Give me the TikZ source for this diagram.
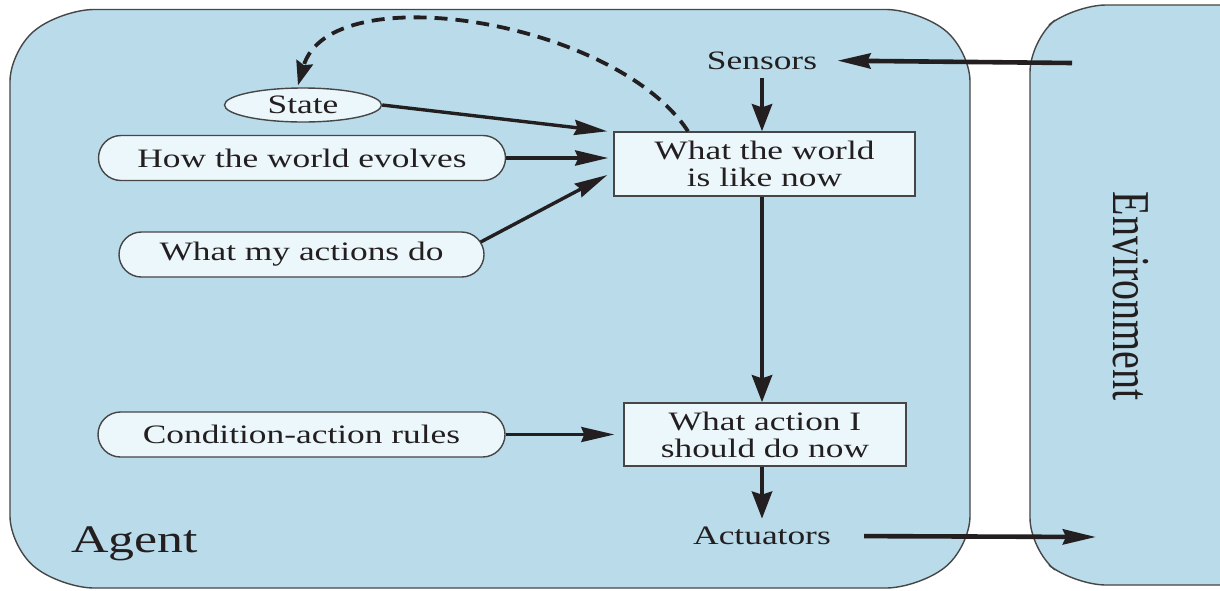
\documentclass[tikz,border=0pt]{standalone}
\usepackage{fontspec}
\usetikzlibrary{arrows.meta,shapes.geometric,calc}
% Times-like serif, set a little wide as in the printed figure
\newfontfamily\lblfont{Liberation Serif}[FakeStretch=1.33]
\newfontfamily\envfont{Liberation Serif}
\definecolor{agentblue}{RGB}{185,219,234}
\definecolor{nodefill}{RGB}{236,247,252}
\definecolor{edgegray}{RGB}{70,70,70}
\definecolor{ink}{RGB}{35,31,32}
\tikzset{
  panel/.style={fill=agentblue, draw=edgegray, line width=0.7pt, rounded corners=16pt},
  lbl/.style={text=ink, font=\lblfont\fontsize{13.3}{13.6}\selectfont},
  pill/.style={lbl, draw=edgegray, fill=nodefill, line width=0.7pt,
    rounded corners=11.25pt, minimum height=22.5pt, inner sep=0pt},
  oval/.style={lbl, ellipse, draw=edgegray, fill=nodefill, line width=0.7pt,
    minimum width=78.5pt, minimum height=17pt, inner sep=0pt},
  sqbox/.style={lbl, rectangle, draw=edgegray, fill=nodefill, line width=0.7pt,
    align=center, inner sep=0pt},
  port/.style={lbl, inner sep=4pt},
  htip/.style={-{Stealth[length=16.5pt,width=7.5pt,inset=1.5pt]}},
  vtip/.style={-{Stealth[length=13.5pt,width=10pt,inset=1.5pt]}},
  bigarrow/.style={draw=ink, line width=2.3pt},
  midarrow/.style={draw=ink, line width=1.7pt},
  thinarrow/.style={draw=ink, line width=1.5pt},
  feedback/.style={draw=ink, line width=1.9pt, dash pattern=on 6.5pt off 4pt,
    -{Stealth[length=12pt,width=8.5pt,inset=1.5pt]}},
}
\begin{document}
\begin{tikzpicture}[x=0.5pt,y=-0.5pt]
  \clip (0,0) rectangle (1220,590);
  \fill[white] (0,0) rectangle (1220,590);

  % agent panel with bevelled corners
  \draw[panel] (62,9.5) -- (918,9.5) -- (970,49.5) -- (970,548) -- (918,588)
    -- (62,588) -- (10,548) -- (10,49.5) -- cycle;
  % environment panel, running off the right edge
  \draw[panel] (1074,5) -- (1300,5) -- (1300,585) -- (1074,585) -- (1030,550)
    -- (1030,40) -- cycle;

  \node[text=ink, font=\lblfont\fontsize{19.5}{20}\selectfont, anchor=base west,
    inner sep=0pt] (agentlbl) at (71,552) {Agent};
  \node[text=ink, font=\envfont\fontsize{20}{20}\selectfont, rotate=-90,
    inner sep=0pt] (envlbl) at (1131,296) {\scalebox{1}[1.33]{Environment}};

  % internal state and knowledge
  \node[oval] (state) at (303,105) {State};
  \node[pill, minimum width=203.5pt] (how) at (302,158) {How the world evolves};
  \node[pill, minimum width=182.5pt] (acts) at (301.5,254.5) {What my actions do};
  \node[pill, minimum width=203.5pt] (rules) at (301.5,434.5) {Condition-action rules};

  \node[sqbox, minimum width=150.5pt, minimum height=32pt] (world) at (764.5,164)
    {What the world\\is like now};
  \node[sqbox, minimum width=141pt, minimum height=31.5pt] (action) at (765,434.5)
    {What action I\\should do now};

  \node[port] (sensors) at (762,60.5) {Sensors};
  \node[port] (actuators) at (762,536) {Actuators};

  \coordinate (percept) at (1072,63);
  \coordinate (effect) at (1096,537);

  % connectors
  \draw[bigarrow, htip, shorten >=6pt] (percept) -- (sensors.east);
  \draw[bigarrow, vtip] (sensors.south) -- (sensors.south |- world.north);
  \draw[midarrow, htip] (state.east) -- ($(world.north west)+(-6,0)$);
  \draw[bigarrow, line width=2pt, htip] (how.east) -- ($(how.east -| world.west)+(-5,0)$);
  \draw[midarrow, htip] ($(acts.east)+(-4,-12.5)$) -- ($(world.west)+(-6,11)$);
  \draw[bigarrow, vtip] (world.south -| sensors) -- (action.north -| sensors);
  \draw[thinarrow, htip] (rules.east) -- ($(rules.east -| action.west)+(-9,0)$);
  \draw[bigarrow, vtip] (action.south -| actuators) -- (actuators.north);
  \draw[bigarrow, htip, shorten <=12.5pt] (actuators.east) -- (effect);

  % state update feedback
  \draw[feedback] ($(world.north)+(-76.5,0)$) .. controls (615,20) and (330,-25)
    .. ($(state.north)+(-5,-2)$);
\end{tikzpicture}
\end{document}
